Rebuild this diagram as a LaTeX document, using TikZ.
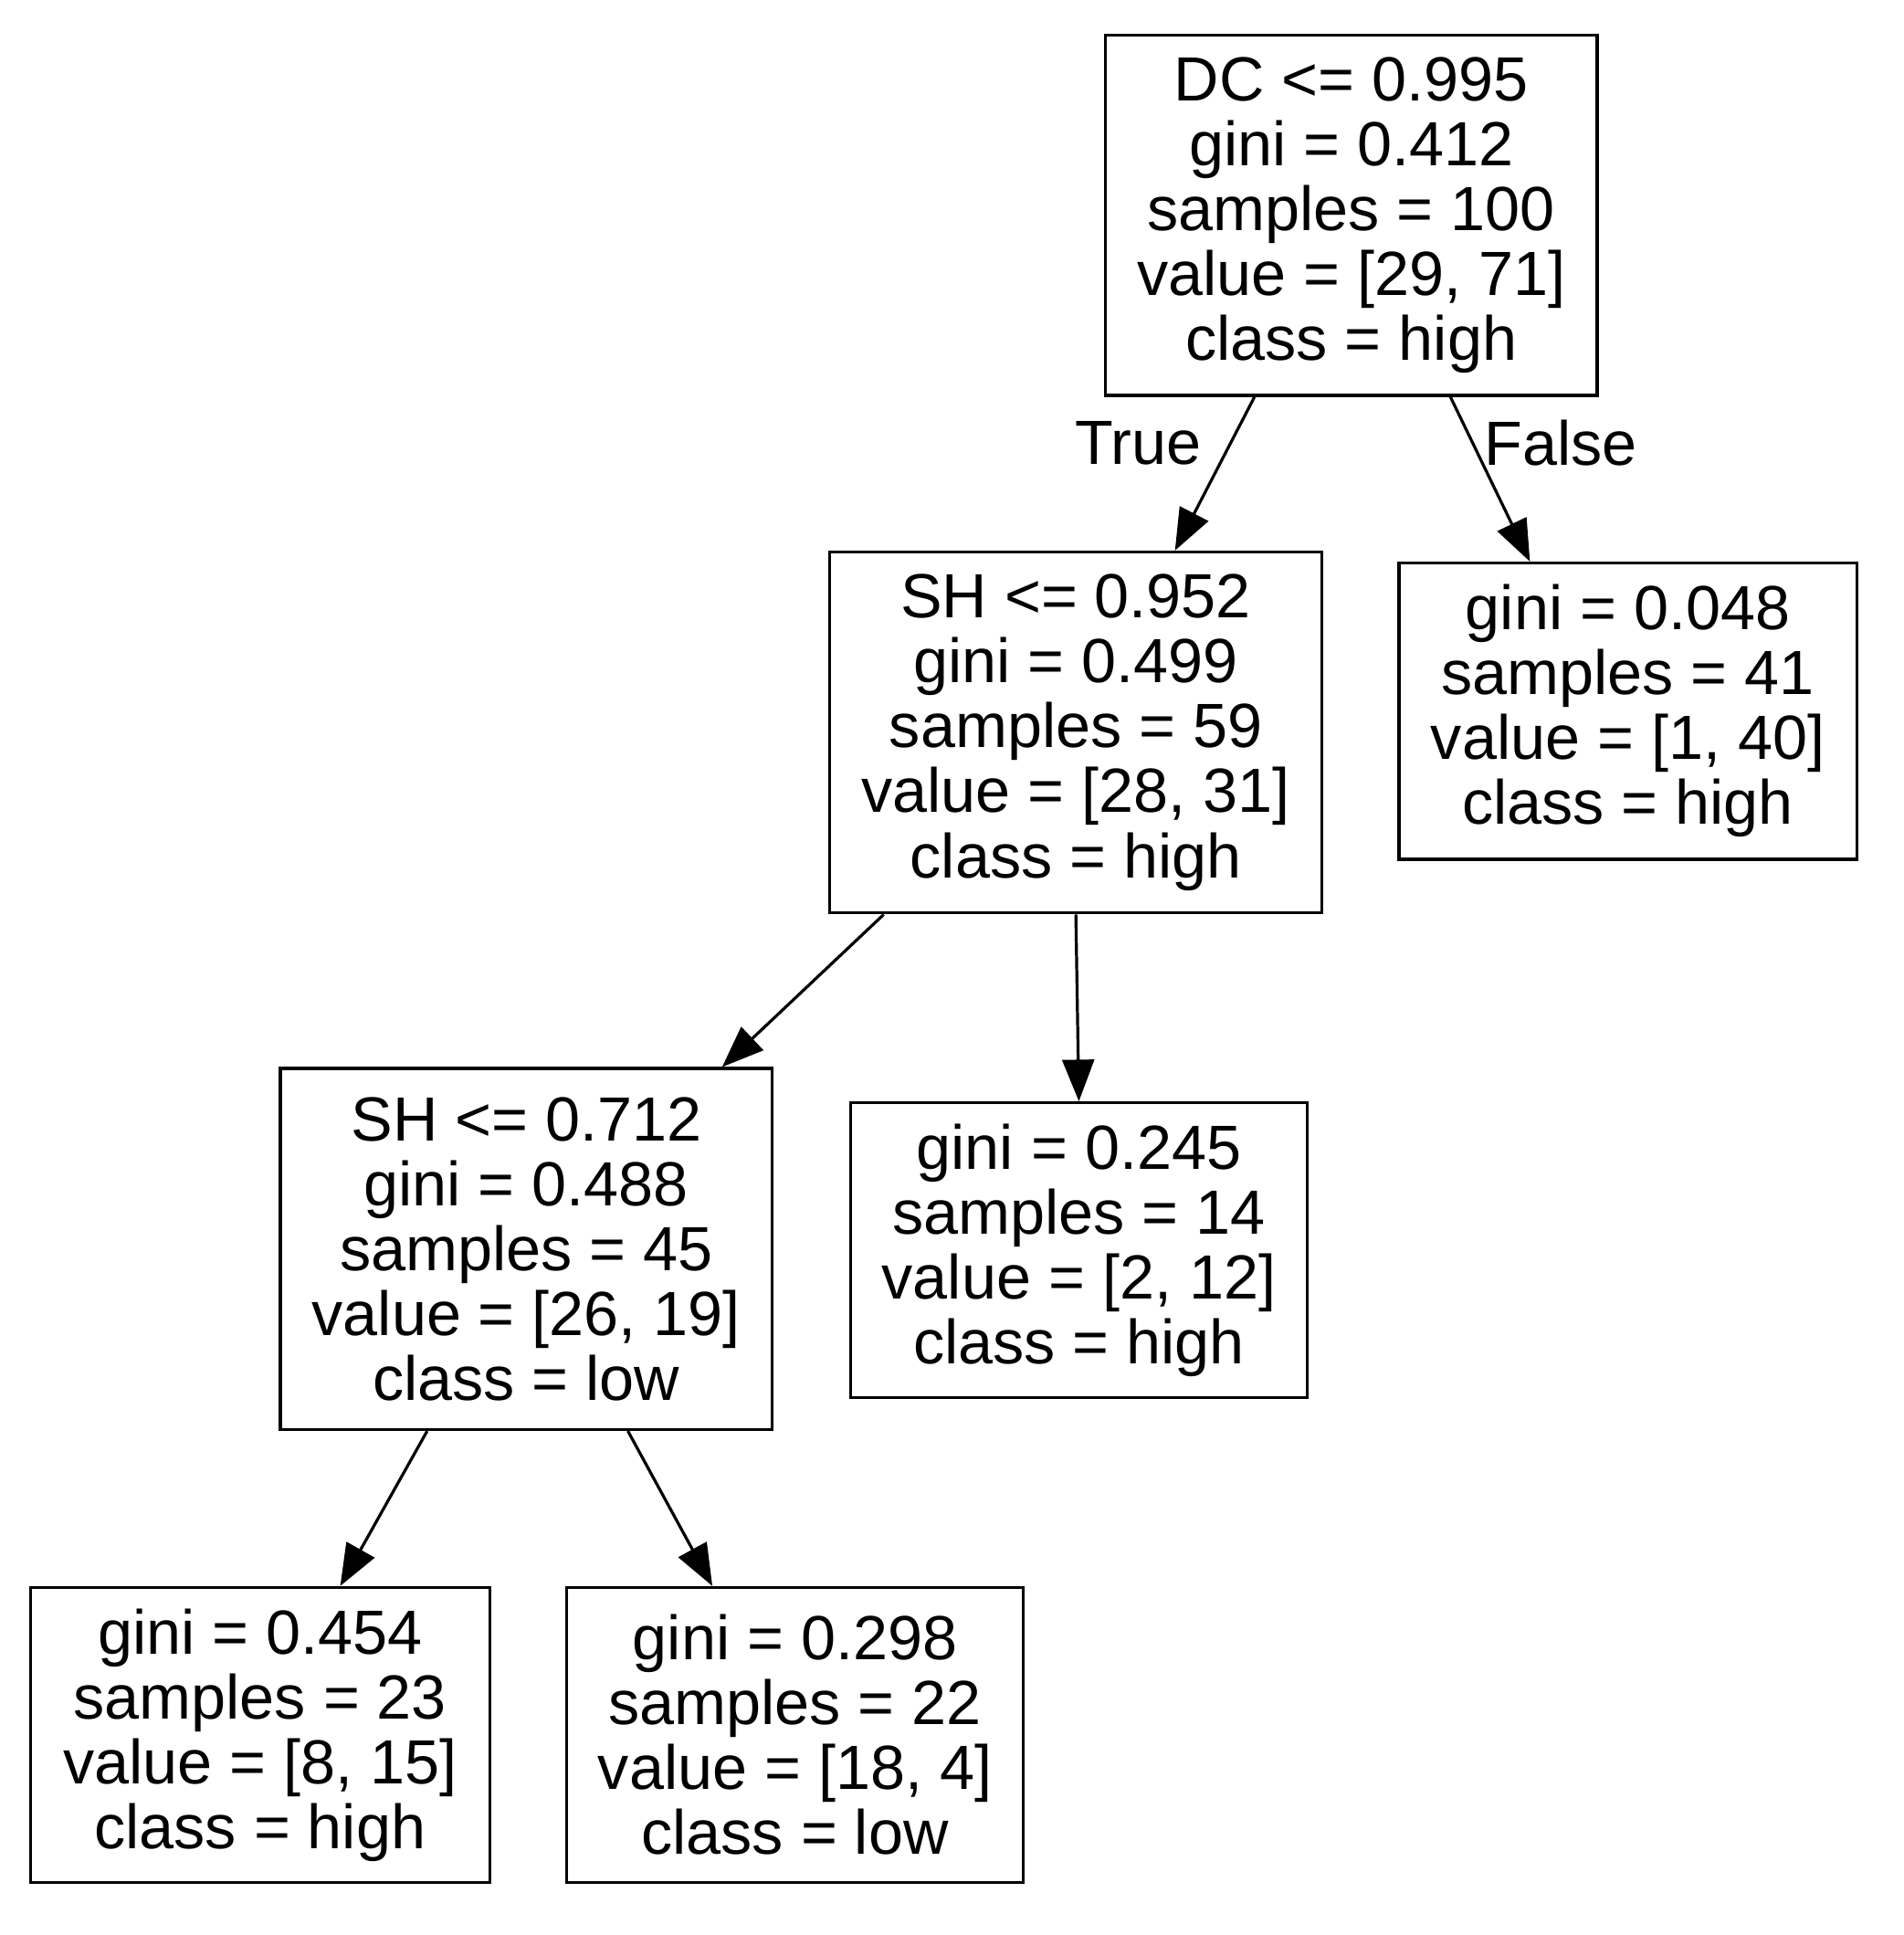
\documentclass[tikz,border=0pt]{standalone}
\usepackage{fontspec}
\setmainfont{Liberation Sans}
\usetikzlibrary{arrows.meta}
\begin{document}
\begin{tikzpicture}[x=0.5pt,y=-0.5pt,
 box/.style={draw,line width=1.2pt,align=center,inner sep=0pt,font=\fontsize{25.5}{26.5}\selectfont},
 e/.style={line width=1.2pt,-{Triangle[length=17pt,width=13pt]}}]
\useasboundingbox (0,0) rectangle (1555,1581);
\node[box,minimum width=201pt,minimum height=147pt] (root) at (1104,176) {DC <= 0.995\\gini = 0.412\\samples = 100\\value = [29, 71]\\class = high};
\node[box,minimum width=201pt,minimum height=147.5pt] (sh1) at (879,598.5) {SH <= 0.952\\gini = 0.499\\samples = 59\\value = [28, 31]\\class = high};
\node[box,minimum width=187pt,minimum height=121pt] (rl) at (1330,581) {gini = 0.048\\samples = 41\\value = [1, 40]\\class = high};
\node[box,minimum width=201pt,minimum height=147.5pt] (sh2) at (430,1020.5) {SH <= 0.712\\gini = 0.488\\samples = 45\\value = [26, 19]\\class = low};
\node[box,minimum width=186.5pt,minimum height=120.5pt] (l245) at (881.5,1021.5) {gini = 0.245\\samples = 14\\value = [2, 12]\\class = high};
\node[box,minimum width=187.5pt,minimum height=120.5pt] (l454) at (212.5,1417.5) {gini = 0.454\\samples = 23\\value = [8, 15]\\class = high};
\node[box,minimum width=186.5pt,minimum height=120.5pt] (l298) at (649.5,1417.5) {gini = 0.298\\samples = 22\\value = [18, 4]\\class = low};
\draw[e] ([xshift=-39.5pt]root.south) -- ([xshift=40.5pt]sh1.north);
\draw[e] ([xshift=40.5pt]root.south) -- ([xshift=-40pt]rl.north);
\draw[e] ([xshift=-78.5pt]sh1.south) -- ([xshift=80pt]sh2.north);
\draw[e] (sh1.south) -- (l245.north);
\draw[e] ([xshift=-40.5pt]sh2.south) -- ([xshift=32.75pt]l454.north);
\draw[e] ([xshift=41.5pt]sh2.south) -- ([xshift=-33.75pt]l298.north);
\node[font=\fontsize{25.5}{26.5}\selectfont] (t) at (930,362) {True};
\node[font=\fontsize{25.5}{26.5}\selectfont] (f) at (1275,362) {False};
\end{tikzpicture}
\end{document}
